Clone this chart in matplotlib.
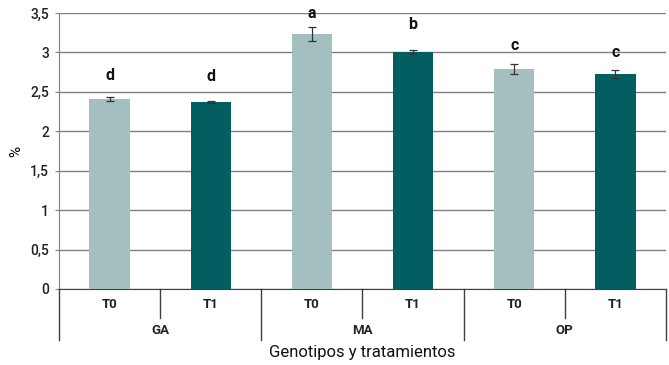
import matplotlib
matplotlib.use("Agg")
import matplotlib.pyplot as plt
import matplotlib.transforms as mtransforms
import numpy as np

plt.rcParams['font.family'] = ['Roboto', 'DejaVu Sans']

genotypes = ['GA', 'MA', 'OP']
treatments = ['T0', 'T1']
values = [2.41, 2.37, 3.23, 3.00, 2.79, 2.73]
errors = [0.02, 0.01, 0.09, 0.025, 0.06, 0.05]
letters = ['d', 'd', 'a', 'b', 'c', 'c']
letter_y = [2.71, 2.69, 3.49, 3.35, 3.09, 3.00]
colors = ['#a5bfc1', '#035e62']

fig = plt.figure(figsize=(6.69, 3.65), dpi=100)
ax = fig.add_axes([59 / 669, 1 - 289 / 365, 607 / 669, 276 / 365])

x = np.arange(len(values))
bar_colors = [colors[i % 2] for i in range(len(values))]
ax.bar(x, values, width=0.4, color=bar_colors, zorder=3)
ax.errorbar(x, values, yerr=errors, fmt='none', ecolor='#333333',
            elinewidth=0.9, capsize=3, capthick=0.9, zorder=4)

for xi, lab, ly in zip(x, letters, letter_y):
    ax.text(xi, ly, lab, ha='center', va='center', fontsize=11.5,
            fontweight='bold', color='#111111')

ax.set_xlim(-0.5, len(values) - 0.5)
ax.set_ylim(0, 3.5)
ticks = np.arange(0, 3.51, 0.5)
ax.set_yticks(ticks)
ax.set_yticklabels([f'{v:g}'.replace('.', ',') for v in ticks],
                   fontsize=10, fontweight='medium', color='#222222')
ax.tick_params(axis='y', length=3, color='#808080', pad=4)
ax.set_xticks([])
ax.grid(axis='y', color='#808080', linewidth=1, zorder=0)

for s in ['top', 'right']:
    ax.spines[s].set_visible(False)
ax.spines['left'].set_color('#808080')
ax.spines['bottom'].set_color('#404040')

# two-level category axis
trans = mtransforms.blended_transform_factory(ax.transData, ax.transAxes)
ah = 276.0
for i in range(len(values)):
    ax.text(i, -15 / ah, treatments[i % 2], transform=trans, ha='center',
            va='center', fontsize=9.5, fontweight='bold', color='#222222')
for g, name in enumerate(genotypes):
    ax.text(2 * g + 0.5, -41 / ah, name, transform=trans, ha='center',
            va='center', fontsize=9.5, fontweight='bold', color='#222222')
for b in np.arange(-0.5, len(values), 1.0):
    k = int(round(b + 0.5))
    low = -51 / ah if k % 2 == 0 else -29 / ah
    ax.plot([b, b], [0, low], transform=trans, color='#404040',
            linewidth=1, clip_on=False)

ax.set_ylabel('%', fontsize=11)
ax.yaxis.set_label_coords(-36 / 607, 0.5)
fig.text((59 + 666) / 2 / 669, 1 - 353 / 365, 'Genotipos y tratamientos',
         ha='center', va='center', fontsize=12, color='#111111')

fig.savefig('out.png', dpi=100)
